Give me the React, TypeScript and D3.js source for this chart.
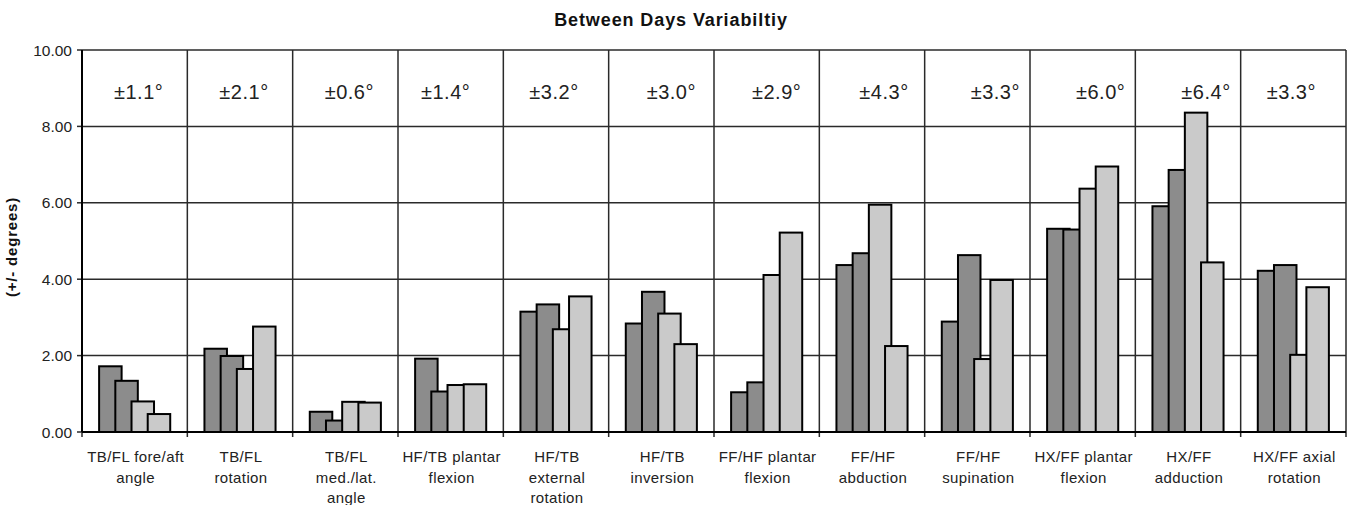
import * as d3 from "d3";

// chart values
const categories = [
  "TB/FL fore/aft\nangle",
  "TB/FL\nrotation",
  "TB/FL\nmed./lat.\nangle",
  "HF/TB plantar\nflexion",
  "HF/TB\nexternal\nrotation",
  "HF/TB\ninversion",
  "FF/HF plantar\nflexion",
  "FF/HF\nabduction",
  "FF/HF\nsupination",
  "HX/FF plantar\nflexion",
  "HX/FF\nadduction",
  "HX/FF axial\nrotation",
];

const series1 = [1.72, 2.18, 0.53, 1.92, 3.15, 2.84, 1.04, 4.37, 2.89, 5.32, 5.91, 4.22];
const series2 = [1.34, 1.99, 0.3, 1.06, 3.34, 3.67, 1.3, 4.68, 4.63, 5.3, 6.86, 4.37];
const series3 = [0.8, 1.65, 0.79, 1.23, 2.69, 3.1, 4.11, 5.95, 1.91, 6.37, 8.36, 2.02];
const series4 = [0.47, 2.76, 0.77, 1.25, 3.55, 2.3, 5.22, 2.25, 3.98, 6.95, 4.44, 3.79];

const variability = ["±1.1°", "±2.1°", "±0.6°", "±1.4°", "±3.2°", "±3.0°", "±2.9°", "±4.3°", "±3.3°", "±6.0°", "±6.4°", "±3.3°"];

const yTicks = [0, 2, 4, 6, 8, 10];

// small horizontal nudges of the ± labels, as placed in the original
const annoShift = [4, 4, 4, -5, -2, 10, 10, 12, 18, 18, 18, -2];

const W = 1348;
const H = 505;
const FONT = "'Liberation Sans', Arial, Helvetica, sans-serif";
const DARK = "#8c8c8c";
const LIGHT = "#cacaca";
const GRID = "#2a2a2a";

export default function App() {
  const margin = { left: 82, right: 2, top: 50, bottom: 73 };
  const x = d3
    .scaleBand<string>()
    .domain(categories)
    .range([margin.left, W - margin.right])
    .padding(0);
  const y = d3.scaleLinear().domain([0, 10]).range([H - margin.bottom, margin.top]);

  const series = [series1, series2, series3, series4];
  const colors = [DARK, DARK, LIGHT, LIGHT];
  const barW = 22.5;
  const step = 16.2;
  const span = step * (series.length - 1) + barW;

  const boundaries = categories.map((c) => x(c) || 0).concat([x.range()[1]]);

  return (
    <svg
      width={W}
      height={H}
      style={{ position: "absolute", left: 0, top: 0, background: "#fff" }}
      fontFamily={FONT}
    >
      <text x={671} y={26} textAnchor="middle" fontWeight="bold" fontSize={18} letterSpacing={0.9} fill="#111">
        Between Days Variabiltiy
      </text>

      {/* horizontal grid */}
      {yTicks.map((t) => (
        <g key={t}>
          <line x1={margin.left} x2={W - margin.right} y1={y(t)} y2={y(t)} stroke={GRID} strokeWidth={1.5} />
          <line x1={margin.left - 5} x2={margin.left} y1={y(t)} y2={y(t)} stroke={GRID} strokeWidth={1.5} />
          <text x={72} y={y(t)} dy="0.36em" textAnchor="end" fontSize={15.5} fill="#222">
            {t.toFixed(2)}
          </text>
        </g>
      ))}

      {/* vertical category separators */}
      {boundaries.map((b, i) => (
        <g key={i}>
          <line x1={b} x2={b} y1={y(10)} y2={y(0)} stroke={GRID} strokeWidth={1.5} />
          <line x1={b} x2={b} y1={y(0)} y2={y(0) + 5} stroke={GRID} strokeWidth={1.5} />
        </g>
      ))}

      {/* bars */}
      {categories.map((c, ci) => {
        const cx = (x(c) || 0) + x.bandwidth() / 2;
        const left = cx - span / 2;
        return (
          <g key={c}>
            {series.map((s, si) => (
              <rect
                key={si}
                x={left + si * step}
                y={y(s[ci])}
                width={barW}
                height={y(0) - y(s[ci])}
                fill={colors[si]}
                stroke="#000"
                strokeWidth={2}
              />
            ))}
            <text
              x={cx + annoShift[ci]}
              y={99}
              textAnchor="middle"
              fontSize={20}
              letterSpacing={0.5}
              fill="#222"
            >
              {variability[ci]}
            </text>
            {c.split("\n").map((line, li) => (
              <text
                key={li}
                x={cx + 1}
                y={462 + li * 20.5}
                textAnchor="middle"
                fontSize={15}
                letterSpacing={0.4}
                fill="#222"
              >
                {line}
              </text>
            ))}
          </g>
        );
      })}

      {/* axes */}
      <line x1={margin.left} x2={W - margin.right} y1={y(0)} y2={y(0)} stroke="#000" strokeWidth={2} />
      <line x1={margin.left} x2={margin.left} y1={y(10)} y2={y(0)} stroke="#000" strokeWidth={2} />

      <text
        transform={`translate(17,247) rotate(-90)`}
        textAnchor="middle"
        fontWeight="bold"
        fontSize={15}
        letterSpacing={0.8}
        fill="#111"
      >
        (+/- degrees)
      </text>
    </svg>
  );
}
